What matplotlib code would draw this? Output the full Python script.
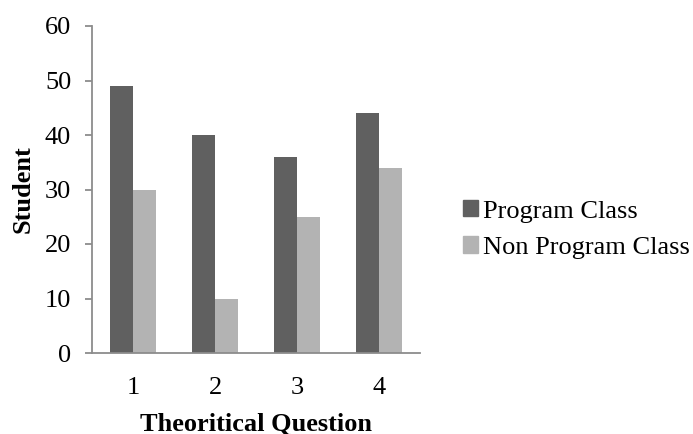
import matplotlib
matplotlib.use("Agg")
import matplotlib.pyplot as plt
import numpy as np
from matplotlib.patches import Patch

questions = ["1", "2", "3", "4"]
program_class = [49, 40, 36, 44]
non_program_class = [30, 10, 25, 34]
series_names = ["Program Class", "Non Program Class"]
y_ticks = [0, 10, 20, 30, 40, 50, 60]

dark = "#606060"
light = "#b3b3b3"
spine_col = "#8c8c8c"
fs = 19

plt.rcParams["font.family"] = ["Liberation Serif", "DejaVu Serif"]

fig = plt.figure(figsize=(6.93, 4.34), dpi=100)
ax = fig.add_axes([92 / 693, 1 - 353 / 434, 328 / 693, 327 / 434])

x = np.arange(len(questions))
w = 1 / 3.5
ax.bar(x - w / 2, program_class, width=w, color=dark, label=series_names[0])
ax.bar(x + w / 2, non_program_class, width=w, color=light, label=series_names[1])

ax.set_xlim(-0.5, len(questions) - 0.5)
ax.set_ylim(0, 60)
ax.set_yticks(y_ticks)
ax.set_xticks(x)
ax.set_xticklabels(questions)

for s in ["top", "right"]:
    ax.spines[s].set_visible(False)
for s in ["left", "bottom"]:
    ax.spines[s].set_color(spine_col)
    ax.spines[s].set_linewidth(1.3)

ax.tick_params(axis="y", length=5, width=1.3, color=spine_col, pad=10, labelsize=fs)
ax.tick_params(axis="x", length=0, pad=17, labelsize=fs)

ax.set_ylabel("Student", fontsize=fs, fontweight="bold", labelpad=7)
ax.set_xlabel("Theoritical Question", fontsize=fs, fontweight="bold", labelpad=10)

handles = [Patch(color=dark), Patch(color=light)]
fig.legend(handles, series_names, loc="center left",
           bbox_to_anchor=(463 / 693, 1 - 229.5 / 434),
           frameon=False, fontsize=fs, handlelength=0.57, handleheight=0.57,
           handletextpad=0.2, labelspacing=0.52, borderpad=0, borderaxespad=0)

fig.savefig("out.png", dpi=100)
